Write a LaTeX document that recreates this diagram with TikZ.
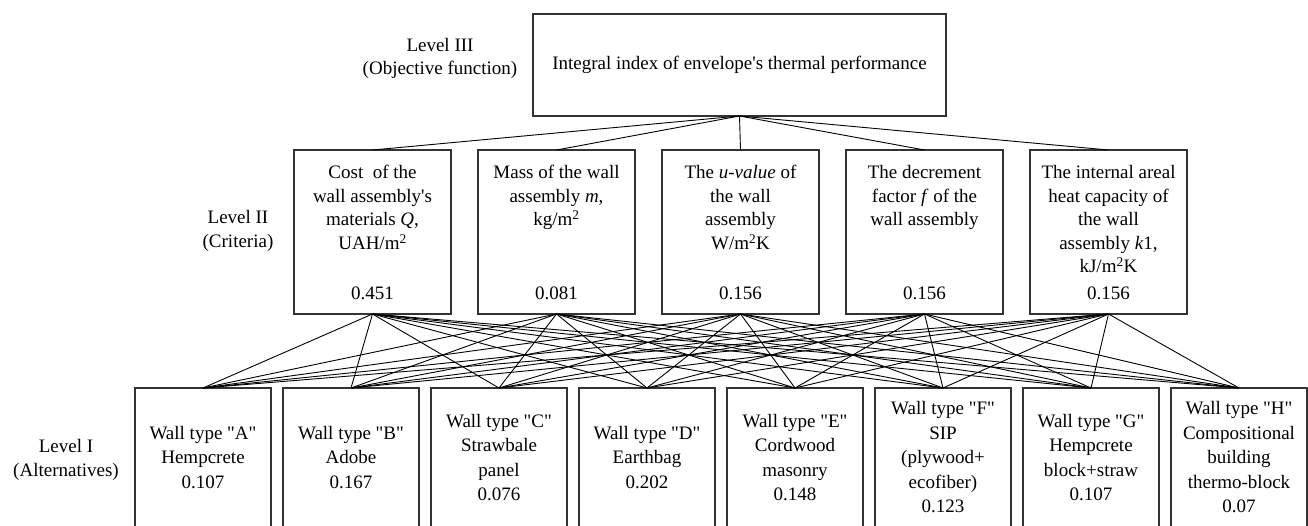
\documentclass[tikz,border=0pt]{standalone}
\usepackage{fontspec}
\setmainfont{Liberation Serif}
\newcommand{\qq}[1]{\textquotedbl#1\textquotedbl}
\begin{document}
\begin{tikzpicture}[x=1pt,y=-1pt,
  every node/.style={font=\fontsize{19}{23.5}\selectfont, inner sep=0pt, outer sep=0pt, text=black},
  box/.style={draw=black!80, line width=1.1pt},
  topbox/.style={box, minimum width=413pt, minimum height=102pt},
  critbox/.style={box, minimum width=157pt, minimum height=164pt},
  altbox/.style={box, minimum width=136pt, minimum height=139pt, align=center, font=\fontsize{19}{24.5}\selectfont},
  crittext/.style={anchor=north, align=center},
  lvl/.style={align=center},
  link/.style={line width=0.9pt, black}]
\useasboundingbox (0,0) rectangle (1308,526);
\clip (0,0) rectangle (1308,526);

% Level III
\node[topbox] (top) at (739.5,65) {Integral index of envelope\textquotesingle s thermal performance};
\node[lvl] (l3) at (440,58.5) {Level III\\(Objective function)};

% Level II
\node[lvl] (l2) at (238,231) {Level II\\(Criteria)};
\node[critbox] (c1) at (372.5,232) {};
\node[critbox] (c2) at (556.5,232) {};
\node[critbox] (c3) at (740.5,232) {};
\node[critbox] (c4) at (924.5,232) {};
\node[critbox] (c5) at (1108.5,232) {};

\node[crittext] (t1) at (372.5,165.5) {Cost\ \ of the\\wall assembly\textquotesingle s\\materials \textit{Q},\\UAH/m\textsuperscript{2}};
\node[crittext] (t2) at (556.5,165.5) {Mass of the wall\\assembly \textit{m},\\kg/m\textsuperscript{2}};
\node[crittext] (t3) at (740.5,165.5) {The \textit{u-value} of\\the wall\\assembly\\W/m\textsuperscript{2}K};
\node[crittext] (t4) at (924.5,165.5) {The decrement\\factor \textit{f} of the\\wall assembly};
\node[crittext] (t5) at (1108.5,165.5) {The internal areal\\heat capacity of\\the wall\\assembly \textit{k}1,\\kJ/m\textsuperscript{2}K};

\node (v1) at (372.5,293) {0.451};
\node (v2) at (556.5,293) {0.081};
\node (v3) at (740.5,293) {0.156};
\node (v4) at (924.5,293) {0.156};
\node (v5) at (1108.5,293) {0.156};

% Level I
\node[lvl] (l1) at (66,460) {Level I\\(Alternatives)};
\node[altbox] (a1) at (203,457.5) {Wall type \qq{A}\\Hempcrete\\0.107};
\node[altbox] (a2) at (351,457.5) {Wall type \qq{B}\\Adobe\\0.167};
\node[altbox] (a3) at (499,457.5) {Wall type \qq{C}\\Strawbale\\panel\\0.076};
\node[altbox] (a4) at (647,457.5) {Wall type \qq{D}\\Earthbag\\0.202};
\node[altbox] (a5) at (795,457.5) {Wall type \qq{E}\\Cordwood\\masonry\\0.148};
\node[altbox] (a6) at (943,457.5) {Wall type \qq{F}\\SIP\\(plywood+\\ecofiber)\\0.123};
\node[altbox] (a7) at (1091,457.5) {Wall type \qq{G}\\Hempcrete\\block+straw\\0.107};
\node[altbox] (a8) at (1239,457.5) {Wall type \qq{H}\\Compositional\\building\\thermo-block\\0.07};

% connectors
\foreach \i in {1,...,5} {
  \draw[link] (top.south) -- (c\i.north);
  \foreach \j in {1,...,8} {
    \draw[link] (c\i.south) -- (a\j.north);
  }
}
\end{tikzpicture}
\end{document}
